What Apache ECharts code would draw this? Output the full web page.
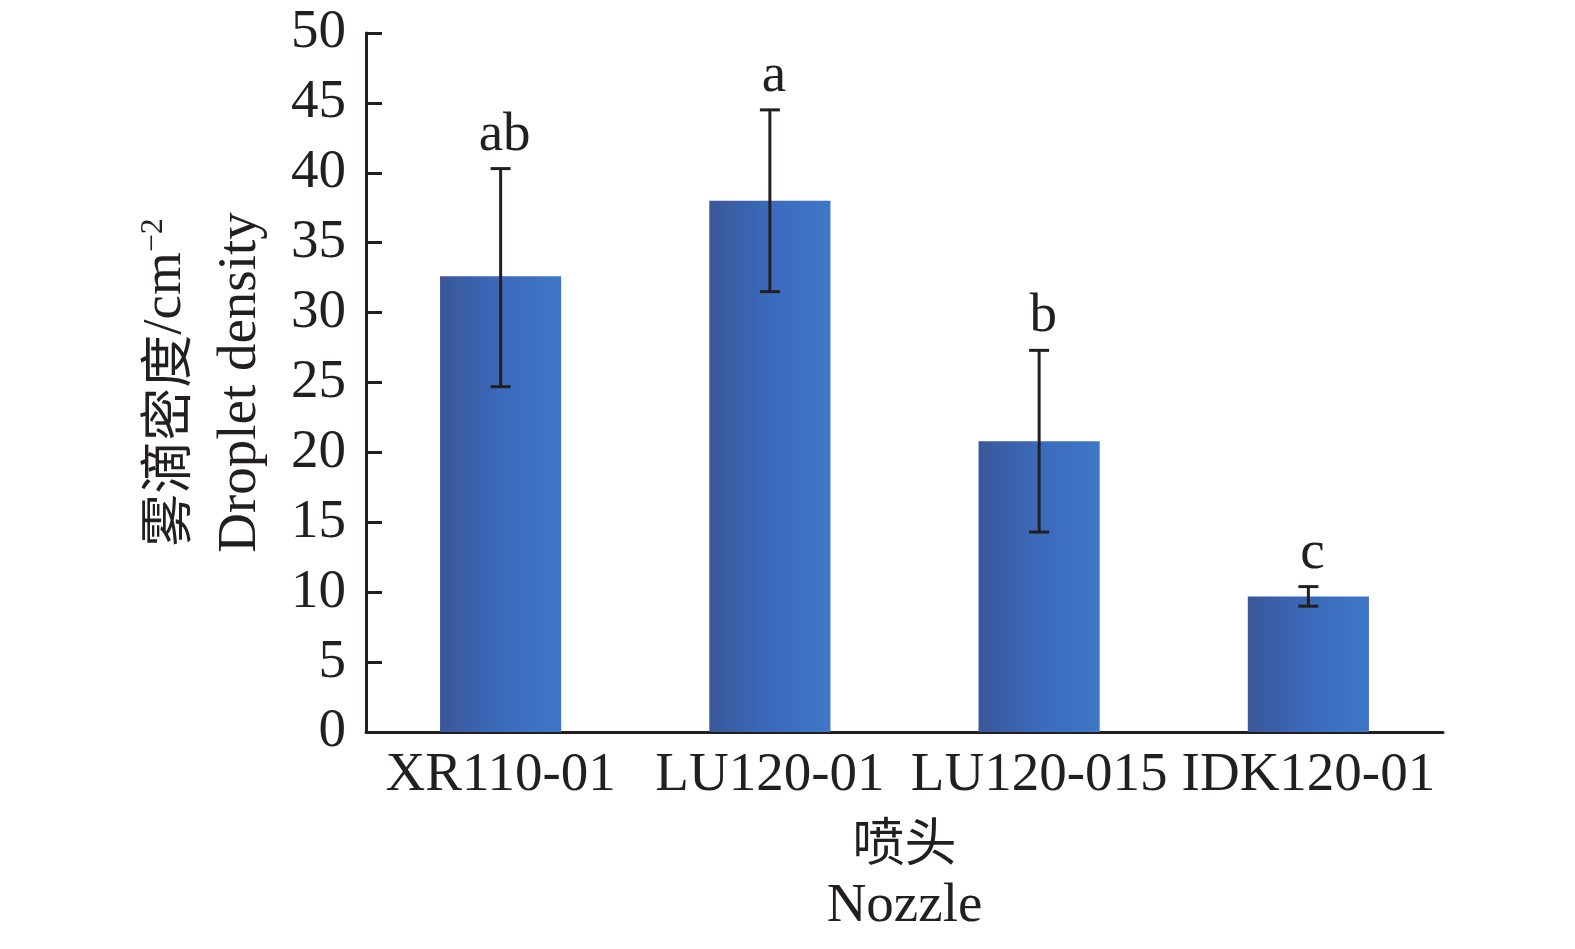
<!DOCTYPE html>
<html>
<head>
<meta charset="utf-8">
<script src="https://cdn.jsdelivr.net/npm/echarts@6/dist/echarts.min.js"></script>
<style>
  html, body { margin: 0; padding: 0; background: #fff; }
  #main { width: 1575px; height: 949px; }
</style>
</head>
<body>
<div id="main"></div>
<script>
// 喷头类型
const nozzles = ['XR110-01', 'LU120-01', 'LU120-015', 'IDK120-01'];
// 雾滴密度均值 /cm-2
const density = [32.6, 38.0, 20.8, 9.7];
// 误差线上下端
const errLow = [24.7, 31.5, 14.3, 9.0];
const errHigh = [40.3, 44.5, 27.3, 10.4];
// 显著性字母
const letters = ['ab', 'a', 'b', 'c'];

const yTicks = { min: 0, max: 50, interval: 5 };

const serif = '"Liberation Serif", "Times New Roman", serif';
const cjk = '"Noto Sans CJK SC", sans-serif';
const ink = '#231f20';

const chart = echarts.init(document.getElementById('main'));

const errData = nozzles.map((n, i) => [i, errLow[i], errHigh[i], letters[i]]);

const option = {
  backgroundColor: '#fff',
  animation: false,
  grid: { left: 366, right: 132, top: 33, bottom: 217 },
  xAxis: {
    type: 'category',
    data: nozzles,
    axisLine: { lineStyle: { color: ink, width: 3 } },
    axisTick: { show: false },
    axisLabel: { color: ink, fontFamily: serif, fontSize: 55, margin: 16, interval: 0 },
    name: '{zh|喷头}\n{en|Nozzle}',
    nameLocation: 'middle',
    nameGap: 76,
    nameTextStyle: {
      rich: {
        zh: { fontFamily: cjk, fontSize: 52, color: ink, lineHeight: 66 },
        en: { fontFamily: serif, fontSize: 55, color: ink, lineHeight: 66 }
      }
    }
  },
  yAxis: {
    type: 'value',
    min: yTicks.min,
    max: yTicks.max,
    interval: yTicks.interval,
    axisLine: { show: true, lineStyle: { color: ink, width: 3 } },
    axisTick: { show: true, inside: true, length: 16, lineStyle: { color: ink, width: 3 } },
    splitLine: { show: false },
    axisLabel: { color: ink, fontFamily: serif, fontSize: 55, margin: 20 },
    name: '{zh|雾滴密度}{en|/cm}{sup|−2}\n{en|Droplet density}',
    nameLocation: 'middle',
    nameGap: 88,
    nameRotate: 90,
    nameTextStyle: {
      rich: {
        zh: { fontFamily: cjk, fontSize: 53, color: ink, lineHeight: 75 },
        sup: { fontFamily: serif, fontSize: 32, color: ink, lineHeight: 75, padding: [0, 0, 24, 0] },
        en: { fontFamily: serif, fontSize: 55, color: ink, lineHeight: 75 }
      }
    }
  },
  series: [
    {
      type: 'bar',
      data: density,
      barWidth: '45%',
      itemStyle: {
        color: new echarts.graphic.LinearGradient(0, 0, 1, 0, [
          { offset: 0, color: '#3a5799' },
          { offset: 0.5, color: '#3b6abb' },
          { offset: 1, color: '#3f77c6' }
        ])
      },
      z: 2
    },
    {
      type: 'custom',
      data: errData,
      z: 5,
      renderItem: function (params, api) {
        const x = api.value(0);
        const lo = api.coord([x, api.value(1)]);
        const hi = api.coord([x, api.value(2)]);
        const cap = 10;
        const ls = { stroke: ink, lineWidth: 3 };
        return {
          type: 'group',
          children: [
            { type: 'line', shape: { x1: lo[0], y1: lo[1], x2: hi[0], y2: hi[1] }, style: ls },
            { type: 'line', shape: { x1: hi[0] - cap, y1: hi[1], x2: hi[0] + cap, y2: hi[1] }, style: ls },
            { type: 'line', shape: { x1: lo[0] - cap, y1: lo[1], x2: lo[0] + cap, y2: lo[1] }, style: ls },
            {
              type: 'text',
              style: {
                text: api.value(3),
                x: hi[0] + 4,
                y: hi[1] - 6,
                align: 'center',
                verticalAlign: 'bottom',
                font: '55px ' + serif,
                fill: ink
              }
            }
          ]
        };
      }
    }
  ]
};

chart.setOption(option);
</script>
</body>
</html>
